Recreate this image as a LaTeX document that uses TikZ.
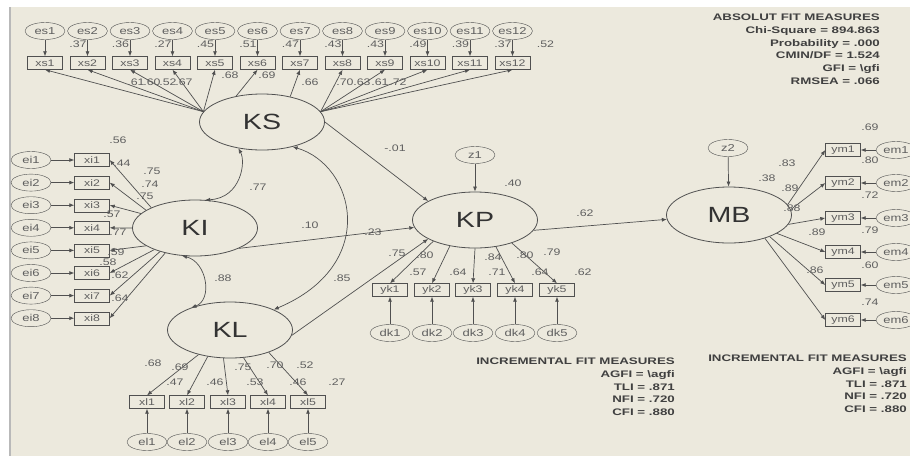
\documentclass[tikz,border=0pt]{standalone}
\usepackage{fontspec}
\setmainfont{Liberation Sans}
\newfontfamily\fitfont[FakeStretch=1.4]{Liberation Sans}
\newfontfamily\amosfont[FakeStretch=1.3]{Liberation Sans}
\usetikzlibrary{positioning,arrows.meta,shapes.geometric}
\definecolor{amosbg}{RGB}{236,233,221}
\definecolor{amosline}{RGB}{80,80,80}
\definecolor{amostext}{RGB}{95,95,95}

\begin{document}
\begin{tikzpicture}[x=1pt,y=-1pt,>={Latex[length=5pt,width=4pt]},
    lat/.style={draw=amosline, ellipse, line width=0.8pt, minimum width=125pt, minimum height=56pt, font=\amosfont\fontsize{22}{22}\selectfont, text=black!80},
    obs/.style={draw=amosline, rectangle, minimum width=35pt, minimum height=13pt, inner sep=0pt, font=\amosfont\fontsize{9.5}{9.5}\selectfont, text=amostext},
    err/.style={draw=amosline, ellipse, minimum width=40pt, minimum height=17pt, inner sep=0pt, font=\amosfont\fontsize{10}{10}\selectfont, text=amostext},
    coef/.style={font=\amosfont\fontsize{9.5}{9.5}\selectfont, text=amostext, inner sep=0pt},
    arr/.style={->, draw=amosline, line width=0.7pt},
    cov/.style={<->, draw=amosline, line width=0.7pt},
    fitnote/.style={align=right, anchor=north east, inner sep=0pt, text=black!75, font=\fitfont\bfseries\fontsize{9.5}{12.7}\selectfont}]
    \useasboundingbox (0,0) rectangle (910,456);
    \clip (0,0) rectangle (910,456);
    \fill[white] (0,0) rectangle (910,456);
    \fill[amosbg] (10,7) rectangle (910,456);
    \draw[gray!55, line width=1.5pt] (10,7) -- (10,456);

    \node[lat] (KS) at (262,122) {KS};
    \node[lat] (KI) at (195,228) {KI};
    \node[lat] (KL) at (230,330) {KL};
    \node[lat] (KP) at (475,220) {KP};
    \node[lat] (MB) at (729,215) {MB};
    \node[err] (z1) at (475,155) {z1};
    \node[err] (z2) at (728,148) {z2};

    \foreach \i in {1,...,12} {
      \node[err] (es\i) at ({45+42.5*(\i-1)},31) {es\i};
      \node[obs] (xs\i) at ({45+42.5*(\i-1)},63) {xs\i};
      \draw[arr] (es\i) -- (xs\i);
    }
    \foreach \i in {1,...,5} \draw[arr] (KS.170) -- (xs\i.south);
    \draw[arr] (KS.135) -- (xs6.south);
    \draw[arr] (KS.42) -- (xs7.south);
    \foreach \i in {8,...,12} \draw[arr] (KS.10) -- (xs\i.south);
    \foreach \i/\v in {1/.37,2/.36,3/.27,4/.45,5/.51,6/.47,7/.43,8/.43,9/.49,10/.39,11/.37,12/.52}
      \node[coef] at ({78+42.5*(\i-1)},44) {\v};
    \foreach \x/\y/\v in {136/82/.61,152/82/.60,168/82/.52,184/82/.67,230/75/.68,267/75/.69,310/82/.66,345/82/.70,362/82/.63,380/82/.61,398/82/.72}
      \node[coef] at (\x,\y) {\v};

    \foreach \i/\a in {1/155,2/160,3/165,4/180,5/200,6/208,7/214,8/220} {
      \node[obs] (xi\i) at (92,{160+22.6*(\i-1)}) {xi\i};
      \node[err] (ei\i) at (31,{160+22.6*(\i-1)}) {ei\i};
      \draw[arr] (ei\i) -- (xi\i);
      \draw[arr] (KI.\a) -- (xi\i.east);
    }
    \foreach \x/\y/\v in {118/140/.56,122/163/.44,152/171/.75,150/184/.74,145/196/.75,112/214/.57,118/232/.77,116/252/.59,108/262/.58,120/275/.62,120/298/.64}
      \node[coef] at (\x,\y) {\v};

    \foreach \i/\x/\a in {1/147/218,2/187/230,3/228/257,4/268/296,5/308/330} {
      \node[obs] (xl\i) at (\x,402) {xl\i};
      \node[err] (el\i) at (\x,442) {el\i};
      \draw[arr] (el\i) -- (xl\i);
      \draw[arr] (KL.\a) -- (xl\i.north);
    }
    \foreach \x/\y/\v in {153/363/.68,180/367/.69,175/382/.47,215/382/.46,243/367/.75,275/365/.70,305/365/.52,255/382/.53,298/382/.46,337/382/.27}
      \node[coef] at (\x,\y) {\v};

    \foreach \i/\x/\a in {1/390/207,2/432/226,3/473/270,4/515/308,5/557/328} {
      \node[obs] (yk\i) at (\x,290) {yk\i};
      \node[err] (dk\i) at (\x,333) {dk\i};
      \draw[arr] (dk\i) -- (yk\i);
      \draw[arr] (KP.\a) -- (yk\i.north);
    }
    \foreach \x/\y/\v in {397/253/.75,425/255/.80,418/272/.57,458/272/.64,493/257/.84,497/272/.71,525/255/.80,552/252/.79,540/272/.64,583/272/.62}
      \node[coef] at (\x,\y) {\v};

    \foreach \i/\y/\a in {1/150/10,2/183/5,3/218/351,4/252/339,5/285/332,6/320/327} {
      \node[obs] (ym\i) at (843,\y) {ym\i};
      \node[err] (em\i) at (896,\y) {em\i};
      \draw[arr] (em\i) -- (ym\i);
      \draw[arr] (MB.\a) -- (ym\i.west);
    }
    \foreach \x/\y/\v in {787/163/.83,767/178/.38,790/188/.89,792/208/.88,817/232/.89,815/270/.86,870/127/.69,870/160/.80,870/195/.72,870/230/.79,870/265/.60,870/302/.74}
      \node[coef] at (\x,\y) {\v};

    \draw[cov] (KS.228) .. controls (246,162) and (241,198) .. (KI.70);
    \draw[cov] (KI.245) .. controls (207,262) and (213,300) .. (KL.150);
    \draw[cov] (KS.321) .. controls (355,165) and (380,265) .. (KL.25);
    \draw[arr] (KS.0) -- (KP.158);
    \draw[arr] (KI.335) -- (KP.187);
    \draw[arr] (KL.355) -- (KP.202);
    \draw[arr] (z1) -- (KP);
    \draw[arr] (KP.350) -- (MB.184);
    \draw[arr] (z2) -- (MB);
    \foreach \x/\y/\v in {258/187/.77,223/278/.88,342/278/.85,395/148/-.01,310/225/.10,373/232/.23,513/183/.40,585/213/.62}
      \node[coef] at (\x,\y) {\v};

    \node[fitnote] (absfit) at (880,14) {ABSOLUT FIT MEASURES\\Chi-Square = 894.863\\Probability = .000\\CMIN/DF = 1.524\\GFI = \textbackslash gfi\\RMSEA = .066};
    \node[fitnote] (incfit) at (675,358) {INCREMENTAL FIT MEASURES\\AGFI = \textbackslash agfi\\TLI = .871\\NFI = .720\\CFI = .880};
    \node[fitnote] (incfitb) at (907,355) {INCREMENTAL FIT MEASURES\\AGFI = \textbackslash agfi\\TLI = .871\\NFI = .720\\CFI = .880};
\end{tikzpicture}
\end{document}
